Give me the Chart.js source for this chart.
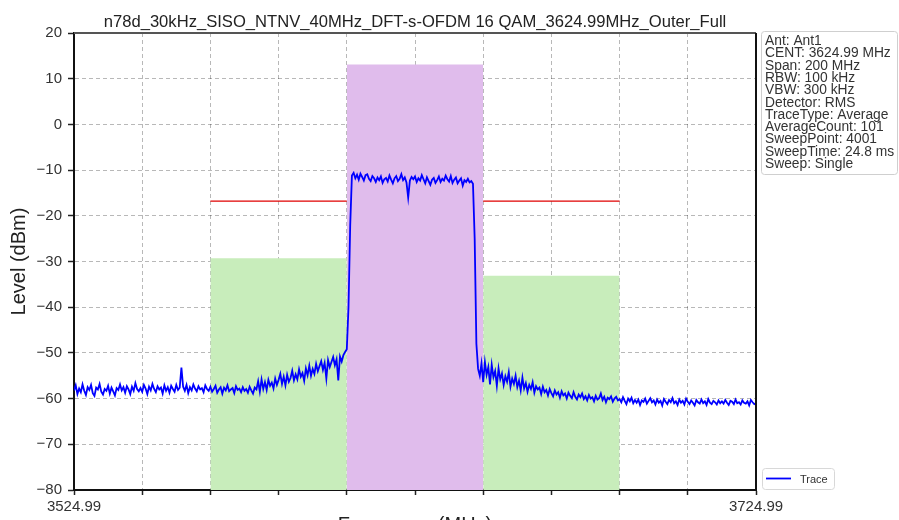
<!DOCTYPE html>
<html>
<head>
<meta charset="utf-8">
<script src="https://cdn.jsdelivr.net/npm/chart.js@4.4.1/dist/chart.umd.min.js"></script>
<style>
  html, body { margin: 0; padding: 0; background: #fff; }
  #wrap { width: 899px; height: 520px; position: relative; }
</style>
</head>
<body>
<div id="wrap"><canvas id="spec"></canvas></div>
<script>
// ---------- data ----------
const chartTitle = "n78d_30kHz_SISO_NTNV_40MHz_DFT-s-OFDM 16 QAM_3624.99MHz_Outer_Full";
const xTitle = "Frequency (MHz)";
const yTitle = "Level (dBm)";

const xTickValues = [3524.99, 3544.99, 3564.99, 3584.99, 3604.99, 3624.99, 3644.99, 3664.99, 3684.99, 3704.99, 3724.99];
const xTickLabels = ["3524.99", "", "", "", "", "", "", "", "", "", "3724.99"];
const yTickValues = [20, 10, 0, -10, -20, -30, -40, -50, -60, -70, -80];

// mask blocks (start, end, level)
const maskStart = [3564.99, 3604.99, 3644.99];
const maskEnd = [3604.99, 3644.99, 3684.99];
const maskLevel = [-29.3, 13.1, -33.1];
const maskColor = ["#c8edbb", "#e0bcec", "#c8edbb"];

// limit line (red)
const limitStart = [3564.99, 3644.99];
const limitEnd = [3604.99, 3684.99];
const limitLevel = [-16.8, -16.8];

// trace: 0.5 MHz spacing from 3524.99
const traceStart = 3524.99;
const traceStep = 0.5;
const traceLevels = [
  -58.2,-57.1,-59.0,-57.8,-58.6,-56.9,-58.3,-59.2,-57.5,-58.1,-57.0,-58.8,-59.4,-57.6,-58.0,-56.8,-58.5,-59.1,-57.9,-58.3,
  -57.2,-58.9,-57.6,-58.4,-59.3,-57.7,-58.1,-56.9,-58.2,-57.5,-58.7,-57.3,-58.0,-59.0,-57.4,-58.3,-56.6,-57.9,-58.4,-57.7,
  -58.5,-57.0,-57.8,-59.0,-57.4,-58.2,-56.8,-57.9,-58.6,-57.3,-58.0,-57.6,-58.9,-57.1,-58.3,-57.5,-58.7,-57.2,-57.9,-58.5,
  -57.0,-58.1,-57.6,-53.2,-57.4,-58.3,-57.0,-58.8,-57.5,-58.2,-56.9,-57.8,-58.4,-57.3,-58.0,-57.7,-58.6,-57.1,-57.9,-58.3,
  -57.4,-58.5,-57.9,-57.2,-58.7,-58.0,-57.5,-58.9,-57.6,-58.2,-57.1,-58.4,-58.0,-57.7,-58.8,-57.3,-58.1,-57.8,-58.6,-57.5,
  -58.3,-57.9,-58.7,-57.4,-58.2,-58.9,-57.6,-58.0,-56.2,-58.5,-55.8,-57.9,-56.4,-58.1,-55.9,-57.2,-56.5,-57.8,-55.6,-57.0,
  -55.9,-54.6,-56.8,-55.2,-57.1,-54.8,-56.3,-55.5,-53.9,-56.0,-54.7,-55.8,-53.6,-55.2,-54.4,-56.1,-53.4,-54.9,-52.8,-55.0,
  -53.5,-54.6,-52.4,-54.0,-52.9,-51.8,-53.7,-52.2,-55.6,-51.6,-53.1,-52.0,-50.9,-52.7,-51.4,-56.0,-50.8,-51.9,-50.5,-49.8,
  -49.2,-40.0,-22.0,
  -11.2,-10.6,-11.8,-11.0,-12.1,-10.8,-11.5,-12.3,-11.1,-10.9,-11.9,-12.4,-11.3,-11.8,-12.6,-11.6,-12.2,
  -11.4,-12.8,-12.0,-11.7,-12.5,-11.2,-12.1,-12.9,-11.8,-11.3,-12.4,-11.9,-10.9,-12.2,-11.6,-12.7,-16.0,-12.3,-11.5,-12.0,
  -11.4,-12.6,-11.8,-12.3,-11.1,-12.0,-12.9,-11.6,-12.4,-13.2,-12.1,-11.7,-12.8,-12.2,-11.4,-12.6,-11.9,-12.3,-11.2,-12.0,
  -12.5,-11.3,-12.8,-12.1,-11.6,-12.9,-12.3,-11.8,-13.4,-12.2,-12.6,-11.9,-12.7,-12.4,
  -13.0,-25.0,-48.0,-53.5,-55.0,-52.3,
  -56.4,-52.0,-54.8,-53.1,-56.9,-52.6,-55.3,-54.0,-57.2,-53.4,-55.8,-54.5,-57.0,-55.1,-56.3,-54.2,-57.4,-55.6,-56.8,-55.0,
  -57.5,-56.1,-58.2,-55.4,-57.8,-56.6,-58.5,-57.0,-57.9,-56.4,-58.7,-57.3,-58.0,-57.6,-59.0,-57.4,-58.6,-58.1,-59.3,-57.9,
  -58.8,-59.5,-58.2,-59.1,-58.6,-59.8,-58.4,-59.3,-58.9,-60.0,-58.7,-59.4,-59.9,-58.6,-59.6,-60.2,-59.1,-59.7,-58.9,-60.1,
  -59.5,-60.4,-59.2,-60.0,-59.7,-60.6,-59.4,-60.2,-59.9,-58.9,-60.3,-59.6,-60.8,-59.8,-60.1,-59.5,-60.7,-60.0,-59.6,-60.4,
  -60.1,-60.8,-59.7,-60.5,-61.2,-60.0,-60.6,-59.8,-61.0,-60.3,-60.9,-60.2,-61.4,-60.4,-60.7,-60.0,-61.1,-60.5,-59.9,-60.8,
  -60.4,-61.3,-60.2,-60.9,-60.5,-61.5,-60.1,-60.7,-61.2,-60.3,-60.8,-59.9,-61.0,-60.6,-61.4,-60.2,-60.9,-60.5,-61.3,-60.0,
  -60.7,-61.2,-60.4,-60.9,-61.5,-60.3,-60.8,-61.1,-60.2,-61.0,-60.6,-61.4,-60.1,-60.9,-61.2,-60.5,-60.8,-61.3,-60.4,-61.0,
  -60.6,-61.1,-60.3,-60.9,-61.4,-60.5,-60.7,-61.2,-60.2,-61.0,-60.8,-61.3,-60.4,-60.9,-61.1,-60.6,-61.5,-60.3,-60.8,-61.2,
  -61.0
];

const infoLines = [
  "Ant: Ant1",
  "CENT: 3624.99 MHz",
  "Span: 200 MHz",
  "RBW: 100 kHz",
  "VBW: 300 kHz",
  "Detector: RMS",
  "TraceType: Average",
  "AverageCount: 101",
  "SweepPoint: 4001",
  "SweepTime: 24.8 ms",
  "Sweep: Single"
];
const legendLabel = "Trace";

// ---------- datasets ----------
const FONT = "'Liberation Sans', Arial, sans-serif";
const datasets = [];

datasets.push({
  label: legendLabel,
  data: traceLevels.map((v, i) => ({ x: traceStart + i * traceStep, y: v })),
  borderColor: "#0000ff",
  borderWidth: 1.8,
  pointRadius: 0,
  fill: false,
  tension: 0,
});

for (let i = 0; i < limitLevel.length; i++) {
  datasets.push({
    label: "limit" + i,
    data: [{ x: limitStart[i], y: limitLevel[i] }, { x: limitEnd[i], y: limitLevel[i] }],
    borderColor: "#e00000",
    borderWidth: 1.3,
    pointRadius: 0,
    fill: false,
  });
}

for (let i = 0; i < maskLevel.length; i++) {
  datasets.push({
    label: "mask" + i,
    data: [{ x: maskStart[i], y: maskLevel[i] }, { x: maskEnd[i], y: maskLevel[i] }],
    borderWidth: 0,
    borderColor: "rgba(0,0,0,0)",
    backgroundColor: maskColor[i],
    pointRadius: 0,
    fill: "start",
  });
}

// ---------- extra drawing: title, axis titles, frame, info box, legend ----------
const decor = {
  id: "decor",
  afterDatasetsDraw(chart) {
    const { ctx, chartArea: a } = chart;
    ctx.save();
    // frame top/right
    ctx.strokeStyle = "#555";
    ctx.lineWidth = 2;
    ctx.beginPath();
    ctx.moveTo(a.left, a.top);
    ctx.lineTo(a.right, a.top);
    ctx.stroke();
    ctx.strokeStyle = "#111";
    ctx.beginPath();
    ctx.moveTo(a.right, a.top);
    ctx.lineTo(a.right, a.bottom);
    ctx.stroke();
    ctx.restore();
  },
  afterDraw(chart) {
    const { ctx, chartArea: a } = chart;
    ctx.save();
    ctx.fillStyle = "#222";
    ctx.textAlign = "center";
    ctx.textBaseline = "alphabetic";
    ctx.font = "16.6px " + FONT;
    ctx.fillText(chartTitle, (a.left + a.right) / 2, 27);

    ctx.font = "20px " + FONT;
    ctx.fillText(xTitle, (a.left + a.right) / 2, 531);

    ctx.save();
    ctx.translate(25, (a.top + a.bottom) / 2);
    ctx.rotate(-Math.PI / 2);
    ctx.fillText(yTitle, 0, 0);
    ctx.restore();

    // info box
    const bx = 761, by = 31, bw = 136, bh = 143;
    ctx.fillStyle = "#fff";
    ctx.strokeStyle = "#cfcfcf";
    ctx.lineWidth = 1;
    ctx.beginPath();
    ctx.roundRect(bx + 0.5, by + 0.5, bw, bh, 3);
    ctx.fill();
    ctx.stroke();
    ctx.fillStyle = "#333";
    ctx.textAlign = "left";
    ctx.font = "13.8px " + FONT;
    infoLines.forEach((t, i) => ctx.fillText(t, bx + 4, by + 14 + i * 12.3));

    // legend box
    const lx = 762, ly = 468, lw = 72, lh = 21;
    ctx.fillStyle = "#fff";
    ctx.strokeStyle = "#d8d8d8";
    ctx.beginPath();
    ctx.roundRect(lx + 0.5, ly + 0.5, lw, lh, 3);
    ctx.fill();
    ctx.stroke();
    ctx.strokeStyle = "#0000ff";
    ctx.lineWidth = 1.8;
    ctx.beginPath();
    ctx.moveTo(lx + 4, ly + 10.5);
    ctx.lineTo(lx + 29, ly + 10.5);
    ctx.stroke();
    ctx.fillStyle = "#333";
    ctx.font = "11px " + FONT;
    ctx.fillText(legendLabel, lx + 38, ly + 15);
    ctx.restore();
  },
};

// ---------- chart ----------
new Chart(document.getElementById("spec"), {
  type: "line",
  data: { datasets },
  options: {
    responsive: true,
    maintainAspectRatio: false,
    animation: false,
    parsing: false,
    layout: { padding: { top: 33, right: 143, bottom: 0, left: 0 } },
    plugins: {
      legend: { display: false },
      tooltip: { enabled: false },
      title: { display: false },
    },
    scales: {
      x: {
        type: "linear",
        min: 3524.99,
        max: 3724.99,
        afterBuildTicks: (s) => { s.ticks = xTickValues.map((v) => ({ value: v })); },
        afterFit: (s) => { s.height = 30; },
        ticks: {
          autoSkip: false,
          maxRotation: 0,
          padding: 3,
          color: "#333",
          font: { family: FONT, size: 15 },
          callback: (v, i) => xTickLabels[i],
        },
        grid: { color: "rgba(0,0,0,0.28)", lineWidth: 1, tickColor: "#222", tickLength: 5, tickWidth: 1.5 },
        border: { display: true, color: "#111", width: 2, dash: [4, 3] },
      },
      y: {
        min: -80,
        max: 20,
        afterBuildTicks: (s) => { s.ticks = yTickValues.map((v) => ({ value: v })); },
        afterFit: (s) => { s.width = 74; },
        ticks: {
          padding: 6,
          color: "#333",
          font: { family: FONT, size: 15 },
          callback: (v) => (v < 0 ? "\u2212" + Math.abs(v) : String(v)),
        },
        grid: { color: "rgba(0,0,0,0.28)", lineWidth: 1, tickColor: "#222", tickLength: 6, tickWidth: 1.5 },
        border: { display: true, color: "#111", width: 2, dash: [4, 3] },
      },
    },
  },
  plugins: [decor],
});
</script>
</body>
</html>
